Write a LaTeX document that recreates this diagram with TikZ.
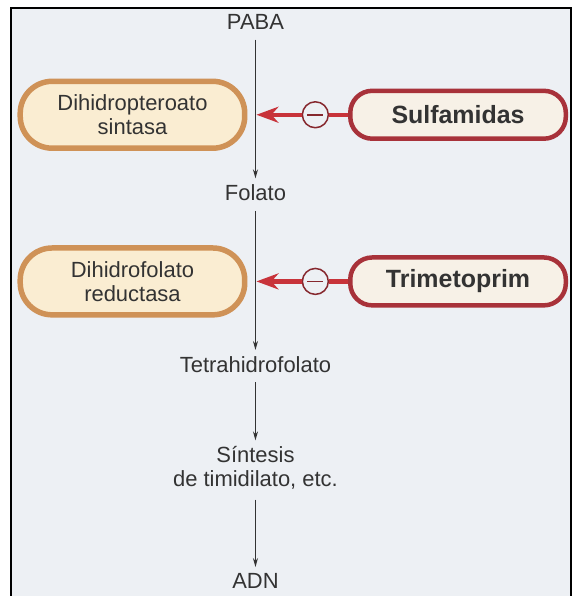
\documentclass[tikz,border=0pt]{standalone}
\usepackage{fontspec}
\setmainfont{Liberation Sans}
\usetikzlibrary{arrows.meta, positioning}

\definecolor{bgpage}{HTML}{EDF0F4}
\definecolor{pillfill}{HTML}{FAEDD2}
\definecolor{pilledge}{HTML}{CF9257}
\definecolor{drugedge}{HTML}{A8323A}
\definecolor{drugfill}{HTML}{F7F1E7}
\definecolor{inhred}{HTML}{C8333A}
\definecolor{stepgray}{HTML}{333333}

\begin{document}
\begin{tikzpicture}[x=1pt, y=-1pt, font=\fontsize{22}{24}\selectfont, text=stepgray,
        metab/.style={align=center, inner sep=2pt},
        enzyme/.style={draw=pilledge, line width=5.5pt, fill=pillfill, rounded corners=32pt,
            minimum width=225pt, minimum height=67pt, align=center},
        drug/.style={draw=drugedge, line width=4.5pt, fill=drugfill, rounded corners=22pt,
            minimum width=216pt, minimum height=48pt, font=\fontsize{25}{28}\selectfont\bfseries},
        block/.style={circle, draw=drugedge!80!black, line width=1.5pt, minimum size=26pt, inner sep=0pt,
            path picture={\draw[drugedge!80!black, line width=1.5pt]
                ([xshift=-8pt]path picture bounding box.center) -- ([xshift=8pt]path picture bounding box.center);}},
        flow/.style={-{Stealth[length=9pt,width=5pt]}, line width=1.3pt, draw=stepgray, shorten <=8pt, shorten >=4pt},
        inhib/.style={-{Stealth[length=22pt,width=16pt,inset=7pt]}, line width=4.5pt, draw=inhred}]

        % Frame
        \fill[white] (0,0) rectangle (577,597);
        \fill[bgpage] (11,8) rectangle (572,597);
        \draw[line width=2.5pt] (11,597) -- (11,8) -- (572,8) -- (572,597);

        % Pathway
        \node[metab] (paba) at (256,22) {PABA};
        \node[metab] (folato) at (256,193) {Folato};
        \node[metab] (thf) at (256,365) {Tetrahidrofolato};
        \node[metab] (sintesis) at (256,469) {Síntesis\\de timidilato, etc.};
        \node[metab] (adn) at (256,582) {ADN};

        \draw[flow] (paba) -- (folato);
        \draw[flow] (folato) -- (thf);
        \draw[flow] (thf) -- (sintesis);
        \draw[flow] (sintesis) -- (adn);

        % Enzymes and inhibitors
        \coordinate (hit1) at (257,115);
        \coordinate (hit2) at (257,282);
        \node[block] (inh1) at (316,115) {};
        \node[block] (inh2) at (316,282) {};

        \node[enzyme, left=9pt of hit1] (sintasa) {Dihidropteroato\\sintasa};
        \node[enzyme, left=9pt of hit2] (reductasa) {Dihidrofolato\\reductasa};
        \node[drug, right=19pt of inh1] (sulfa) {Sulfamidas};
        \node[drug, right=19pt of inh2] (trimeto) {Trimetoprim};

        \draw[inhred, line width=4.5pt] (sulfa) -- (inh1);
        \draw[inhred, line width=4.5pt] (trimeto) -- (inh2);
        \draw[inhib] (inh1) -- (hit1);
        \draw[inhib] (inh2) -- (hit2);

    \end{tikzpicture}
\end{document}
